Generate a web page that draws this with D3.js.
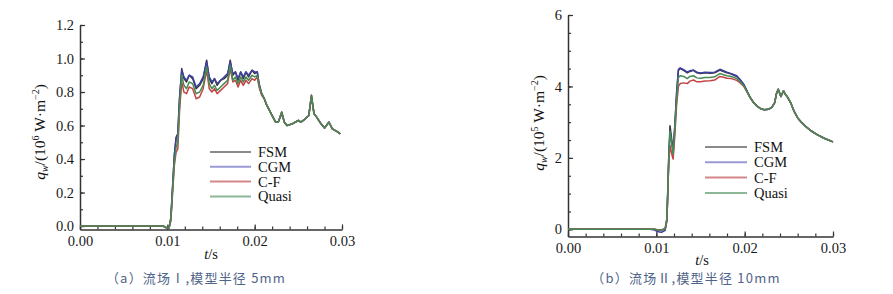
<!DOCTYPE html>
<html>
<head>
<meta charset="utf-8">
<script src="https://cdn.jsdelivr.net/npm/d3@7"></script>
<style>
  body { margin: 0; background: #fff; }
  svg { display: block; }
  .domain { stroke: #333; stroke-width: 1.5; }
  .tick line { stroke: #333; stroke-width: 1.2; }
</style>
</head>
<body>
<div id="chart"></div>
<script>
// legend names and line colours
var seriesNames = ["FSM", "CGM", "C-F", "Quasi"];
var seriesColors = ["#333333", "#4040a4", "#c44444", "#478a55"];
var legendColors = ["#8a8a8a", "#9a9ad4", "#d48888", "#8cb898"];

// (a) flow field I, radius 5 mm  -- q_w in 10^6 W/m^2
var timeA = [0, 0.002, 0.004, 0.006, 0.008, 0.0095, 0.0099, 0.0102, 0.0104, 0.0108,
  0.011, 0.0112, 0.0114, 0.01165, 0.0119, 0.0122, 0.0125, 0.0129, 0.0133, 0.0137,
  0.0141, 0.0145, 0.0148, 0.0151, 0.0154, 0.0157, 0.0161, 0.0165, 0.0169, 0.0172,
  0.0175, 0.0178, 0.0181, 0.0184, 0.0187, 0.019, 0.0193, 0.0197, 0.02, 0.0203,
  0.0205, 0.0208, 0.0211, 0.0214, 0.0219, 0.0224, 0.0227, 0.0231, 0.0234, 0.0237,
  0.0243, 0.025, 0.0253, 0.0258, 0.0262, 0.0265, 0.0268, 0.0271, 0.0276, 0.028,
  0.0285, 0.0289, 0.0294, 0.0298];
var fsmA = [0, 0, 0, 0, 0, 0, -0.01, -0.01, 0.05, 0.42,
  0.53, 0.55, 0.76, 0.94, 0.88, 0.86, 0.90, 0.88, 0.82, 0.84,
  0.88, 0.99, 0.88, 0.85, 0.88, 0.84, 0.87, 0.88, 0.90, 0.99,
  0.90, 0.92, 0.87, 0.92, 0.88, 0.92, 0.89, 0.93, 0.91, 0.92,
  0.85, 0.79, 0.76, 0.72, 0.67, 0.62, 0.62, 0.68, 0.62, 0.60,
  0.61, 0.63, 0.62, 0.64, 0.66, 0.78, 0.67, 0.65, 0.61, 0.585,
  0.62, 0.58, 0.565, 0.55];
var cgmA = [0, 0, 0, 0, 0, 0, -0.01, -0.01, 0.04, 0.42,
  0.52, 0.55, 0.77, 0.93, 0.89, 0.87, 0.90, 0.89, 0.83, 0.85,
  0.89, 0.98, 0.89, 0.86, 0.88, 0.85, 0.87, 0.89, 0.91, 0.98,
  0.91, 0.92, 0.88, 0.92, 0.89, 0.92, 0.90, 0.93, 0.92, 0.92,
  0.85, 0.79, 0.76, 0.72, 0.67, 0.62, 0.62, 0.67, 0.62, 0.60,
  0.61, 0.63, 0.62, 0.64, 0.66, 0.77, 0.67, 0.65, 0.61, 0.585,
  0.62, 0.58, 0.565, 0.55];
var cfA = [0, 0, 0, 0, 0, 0, -0.01, -0.01, 0.03, 0.36,
  0.44, 0.46, 0.69, 0.86, 0.80, 0.79, 0.83, 0.82, 0.76, 0.77,
  0.82, 0.93, 0.82, 0.80, 0.82, 0.79, 0.81, 0.83, 0.85, 0.94,
  0.86, 0.87, 0.83, 0.87, 0.84, 0.87, 0.85, 0.88, 0.87, 0.89,
  0.83, 0.78, 0.76, 0.72, 0.67, 0.62, 0.62, 0.68, 0.62, 0.60,
  0.61, 0.63, 0.62, 0.64, 0.66, 0.78, 0.67, 0.65, 0.61, 0.585,
  0.62, 0.58, 0.565, 0.55];
var quasiA = [0, 0, 0, 0, 0, 0, -0.01, -0.01, 0.04, 0.38,
  0.47, 0.50, 0.72, 0.90, 0.84, 0.82, 0.86, 0.85, 0.79, 0.80,
  0.84, 0.95, 0.85, 0.82, 0.84, 0.81, 0.83, 0.85, 0.87, 0.96,
  0.87, 0.89, 0.85, 0.89, 0.86, 0.89, 0.87, 0.90, 0.89, 0.90,
  0.84, 0.79, 0.76, 0.72, 0.67, 0.62, 0.62, 0.68, 0.62, 0.60,
  0.61, 0.63, 0.62, 0.64, 0.66, 0.78, 0.67, 0.65, 0.61, 0.585,
  0.62, 0.58, 0.565, 0.55];

// (b) flow field II, radius 10 mm  -- q_w in 10^5 W/m^2
var timeB = [0, 0.002, 0.004, 0.006, 0.008, 0.0093, 0.0098, 0.0102, 0.0106, 0.011,
  0.0112, 0.0114, 0.01155, 0.0118, 0.0119, 0.0121, 0.0123, 0.0125, 0.0127, 0.0131,
  0.0135, 0.0138, 0.0142, 0.0146, 0.015, 0.0155, 0.0161, 0.0166, 0.0172, 0.0176,
  0.018, 0.0185, 0.0191, 0.0195, 0.0199, 0.0203, 0.0206, 0.021, 0.0214, 0.0218,
  0.0222, 0.0227, 0.0231, 0.0234, 0.0236, 0.0238, 0.0241, 0.0244, 0.0246, 0.0248,
  0.0252, 0.0256, 0.026, 0.0265, 0.027, 0.0275, 0.0282, 0.029, 0.03];
var fsmB = [0, 0, 0, 0, 0, 0, 0, -0.02, -0.02, 0.02,
  0.3, 2.0, 2.9, 2.4, 2.15, 2.9, 3.8, 4.45, 4.5, 4.45,
  4.38, 4.42, 4.45, 4.38, 4.36, 4.38, 4.37, 4.38, 4.46, 4.42,
  4.38, 4.35, 4.28, 4.18, 4.05, 3.85, 3.7, 3.55, 3.45, 3.38,
  3.35, 3.36, 3.42, 3.55, 3.8, 3.92, 3.72, 3.88, 3.78, 3.72,
  3.55, 3.3, 3.12, 2.98, 2.86, 2.76, 2.65, 2.55, 2.45];
var cgmB = [0, 0, 0, 0, 0, 0, -0.02, -0.07, -0.08, -0.03,
  0.25, 1.9, 2.75, 2.35, 2.15, 2.95, 3.85, 4.48, 4.52, 4.47,
  4.4, 4.44, 4.46, 4.4, 4.38, 4.4, 4.39, 4.4, 4.48, 4.44,
  4.4, 4.36, 4.3, 4.19, 4.06, 3.86, 3.7, 3.55, 3.45, 3.38,
  3.35, 3.36, 3.42, 3.55, 3.8, 3.92, 3.72, 3.88, 3.78, 3.72,
  3.55, 3.3, 3.12, 2.98, 2.86, 2.76, 2.65, 2.55, 2.45];
var cfB = [0, 0, 0, 0, 0, 0, 0, -0.02, -0.02, 0.02,
  0.25, 1.8, 2.35, 2.05, 1.97, 2.65, 3.5, 4.0, 4.08, 4.1,
  4.08, 4.15, 4.18, 4.13, 4.13, 4.15, 4.16, 4.18, 4.28, 4.26,
  4.23, 4.22, 4.17, 4.1, 4.0, 3.83, 3.69, 3.55, 3.45, 3.38,
  3.35, 3.36, 3.42, 3.55, 3.8, 3.92, 3.72, 3.88, 3.78, 3.72,
  3.55, 3.3, 3.12, 2.98, 2.86, 2.76, 2.65, 2.55, 2.45];
var quasiB = [0, 0, 0, 0, 0, 0, 0, -0.02, -0.02, 0.02,
  0.3, 1.9, 2.75, 2.3, 2.1, 2.8, 3.65, 4.25, 4.3, 4.28,
  4.22, 4.28, 4.3, 4.24, 4.23, 4.25, 4.25, 4.27, 4.36, 4.33,
  4.3, 4.28, 4.22, 4.13, 4.02, 3.84, 3.7, 3.55, 3.45, 3.38,
  3.35, 3.36, 3.42, 3.55, 3.8, 3.92, 3.72, 3.88, 3.78, 3.72,
  3.55, 3.3, 3.12, 2.98, 2.86, 2.76, 2.65, 2.55, 2.45];

// tick values
var xTicks = [0, 0.01, 0.02, 0.03];
var xMinor = d3.range(0, 0.0301, 0.002);
var yTicksA = [0, 0.2, 0.4, 0.6, 0.8, 1.0, 1.2];
var yMinorA = d3.range(0, 1.201, 0.1);
var yTicksB = [0, 2, 4, 6];
var yMinorB = d3.range(0, 6.01, 0.5);

var serif = '"Liberation Serif", "DejaVu Serif", serif';

var svg = d3.select("#chart").append("svg")
  .attr("width", 893)
  .attr("height", 294);

function styleAxis(sel) {
  sel.attr("font-family", serif).attr("font-size", 14.5);
  sel.selectAll(".tick text").attr("fill", "#1a1a1a");
}

function drawPanel(p) {
  var g = svg.append("g");
  var x = d3.scaleLinear().domain([0, 0.03]).range([p.left, p.right]);
  var y = d3.scaleLinear().domain(p.yDomain).range([p.bottom, p.top]);

  // minor ticks first, then the major axis over them
  g.append("g")
    .attr("transform", "translate(0," + p.bottom + ")")
    .call(d3.axisBottom(x).tickValues(xMinor).tickSize(-3).tickSizeOuter(0).tickFormat(""))
    .select(".domain").remove();
  g.append("g")
    .attr("transform", "translate(" + p.left + ",0)")
    .call(d3.axisLeft(y).tickValues(p.yMinor).tickSize(-3).tickSizeOuter(0).tickFormat(""))
    .select(".domain").remove();

  g.append("g")
    .attr("transform", "translate(0," + p.bottom + ")")
    .call(d3.axisBottom(x).tickValues(xTicks).tickSize(-5).tickSizeOuter(0)
      .tickPadding(6).tickFormat(d3.format(".2f")))
    .call(styleAxis);
  g.append("g")
    .attr("transform", "translate(" + p.left + ",0)")
    .call(d3.axisLeft(y).tickValues(p.yTicks).tickSize(-5).tickSizeOuter(0)
      .tickPadding(6).tickFormat(p.yFormat))
    .call(styleAxis);

  var line = d3.line()
    .x(function(d) { return x(d[0]); })
    .y(function(d) { return y(d[1]); });

  p.series.forEach(function(vals, i) {
    var pts = p.time.map(function(t, j) { return [t, vals[j]]; });
    g.append("path")
      .datum(pts)
      .attr("fill", "none")
      .attr("stroke", seriesColors[i])
      .attr("stroke-width", 1.5)
      .attr("stroke-linejoin", "round")
      .attr("d", line);
  });

  // legend
  var leg = g.append("g");
  seriesNames.forEach(function(name, i) {
    var ly = p.legY + i * p.legStep;
    leg.append("line")
      .attr("x1", p.legX).attr("x2", p.legX + p.legLen)
      .attr("y1", ly).attr("y2", ly)
      .attr("stroke", legendColors[i])
      .attr("stroke-width", 2);
    leg.append("text")
      .attr("x", p.legX + p.legLen + 7)
      .attr("y", ly + 5)
      .attr("font-family", serif)
      .attr("font-size", 14.5)
      .attr("fill", "#111")
      .text(name);
  });

  // axis titles
  g.append("text")
    .attr("x", p.tLabelX).attr("y", p.tLabelY)
    .attr("text-anchor", "middle")
    .attr("font-family", serif).attr("font-size", 14.5).attr("fill", "#111")
    .call(function(t) {
      t.append("tspan").attr("font-style", "italic").text("t");
      t.append("tspan").text("/s");
    });

  var yl = g.append("text")
    .attr("transform", "translate(" + p.yLabelX + "," + p.yLabelY + ") rotate(-90)")
    .attr("text-anchor", "middle")
    .attr("font-family", serif).attr("font-size", 15.5).attr("fill", "#111");
  yl.append("tspan").attr("font-style", "italic").text("q");
  yl.append("tspan").attr("font-style", "italic").attr("font-size", 10).attr("dy", 3).text("w");
  yl.append("tspan").attr("dy", -3).text("/(10");
  yl.append("tspan").attr("font-size", 10).attr("dy", -6).text(p.power);
  yl.append("tspan").attr("dy", 6).text(" W\u00b7m");
  yl.append("tspan").attr("font-size", 10).attr("dy", -6).text("\u22122");
  yl.append("tspan").attr("dy", 6).text(")");

  g.append("text")
    .attr("x", p.capX).attr("y", 283)
    .attr("text-anchor", "middle")
    .attr("font-family", '"Noto Sans CJK SC", sans-serif')
    .attr("font-size", 13)
    .attr("letter-spacing", 1.2)
    .attr("fill", "#4f6488")
    .text(p.caption);
}

drawPanel({
  left: 80, right: 342, top: 25, bottom: 229.4,
  yDomain: [-0.02, 1.2], yTicks: yTicksA, yMinor: yMinorA, yFormat: d3.format(".1f"),
  time: timeA, series: [fsmA, cgmA, cfA, quasiA],
  legX: 210, legY: 152, legStep: 14.8, legLen: 41,
  tLabelX: 211, tLabelY: 259,
  yLabelX: 45, yLabelY: 132, power: "6",
  capX: 196, caption: "（a）流场Ⅰ,模型半径 5mm"
});

drawPanel({
  left: 568, right: 833, top: 15, bottom: 236.5,
  yDomain: [-0.2, 6], yTicks: yTicksB, yMinor: yMinorB, yFormat: d3.format("d"),
  time: timeB, series: [fsmB, cgmB, cfB, quasiB],
  legX: 705, legY: 147, legStep: 15.3, legLen: 42,
  tLabelX: 702, tLabelY: 265,
  yLabelX: 544, yLabelY: 123, power: "5",
  capX: 686, caption: "（b）流场Ⅱ,模型半径 10mm"
});
</script>
</body>
</html>
